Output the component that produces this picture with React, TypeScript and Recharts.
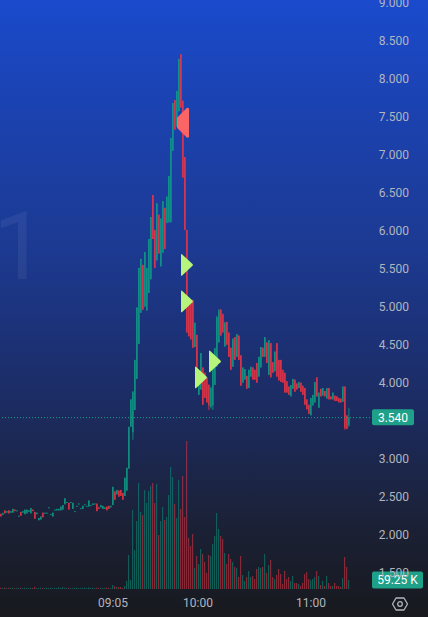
import React from 'react';
import { ComposedChart, Bar, XAxis, YAxis, ReferenceLine, Scatter, Cell } from 'recharts';

// ---- data ----
const openP = [
  2.27, 2.26, 2.32, 2.29, 2.32, 2.29, 2.29, 2.33, 2.31, 2.24,
  2.30, 2.29, 2.27, 2.28, 2.30, 2.28, 2.33, 2.30, 2.27, 2.19,
  2.20, 2.29, 2.28, 2.28, 2.35, 2.26, 2.24, 2.32, 2.32, 2.32,
  2.32, 2.33, 2.40, 2.42, 2.42, 2.42, 2.34, 2.30, 2.37, 2.40,
  2.34, 2.34, 2.39, 2.37, 2.37, 2.38, 2.39, 2.40, 2.41, 2.36,
  2.36, 2.34, 2.34, 2.37, 2.38, 2.36, 2.39, 2.57, 2.53, 2.58,
  2.59, 2.55, 2.51, 2.58, 2.87, 3.42, 3.35, 3.64, 4.05, 4.51,
  4.92, 5.55, 5.00, 4.95, 5.18, 5.36, 6.47, 6.01, 5.61, 6.21,
  5.53, 5.71, 6.30, 6.10, 6.11, 6.11, 7.05, 7.72, 7.37, 7.57,
  8.32, 7.71, 6.97, 6.01, 5.09, 5.05, 5.09, 4.47, 4.63, 3.84,
  3.91, 4.20, 4.13, 4.07, 3.97, 3.68, 3.70, 3.97, 4.21, 4.53,
  4.96, 4.90, 4.48, 4.80, 4.66, 4.46, 4.21, 4.60, 4.34, 4.62,
  4.36, 4.00, 4.04, 4.09, 3.93, 4.08, 4.20, 4.17, 4.26, 4.08,
  4.20, 4.46, 4.34, 4.53, 4.10, 4.52, 4.27, 4.15, 4.52, 4.30,
  4.30, 4.17, 4.13, 4.02, 3.95, 3.82, 3.92, 4.04, 3.99, 3.93,
  4.00, 3.96, 3.93, 3.78, 3.71, 3.57, 3.70, 3.74, 4.07, 3.67,
  3.92, 3.83, 3.89, 3.79, 3.93, 3.82, 3.78, 3.83, 3.82, 3.80,
  3.79, 3.75, 3.95, 3.57, 3.44,
];
const highP = [
  2.28, 2.29, 2.32, 2.31, 2.32, 2.31, 2.34, 2.33, 2.32, 2.25,
  2.30, 2.31, 2.33, 2.33, 2.32, 2.35, 2.33, 2.30, 2.29, 2.22,
  2.24, 2.29, 2.29, 2.29, 2.36, 2.27, 2.29, 2.33, 2.34, 2.34,
  2.37, 2.39, 2.48, 2.43, 2.42, 2.43, 2.42, 2.31, 2.38, 2.41,
  2.35, 2.38, 2.40, 2.38, 2.45, 2.39, 2.41, 2.41, 2.41, 2.36,
  2.39, 2.38, 2.36, 2.37, 2.38, 2.38, 2.63, 2.57, 2.59, 2.58,
  2.59, 2.55, 2.75, 2.88, 3.42, 3.78, 3.89, 4.30, 4.99, 5.51,
  5.63, 5.55, 5.72, 5.51, 5.89, 6.18, 6.47, 6.01, 6.36, 6.21,
  6.16, 6.39, 6.30, 6.45, 6.72, 7.22, 7.68, 7.72, 7.84, 8.26,
  8.32, 7.71, 6.97, 6.01, 5.09, 5.05, 5.09, 4.79, 4.63, 4.13,
  4.39, 4.20, 4.13, 4.07, 3.98, 3.95, 4.30, 4.46, 4.88, 4.97,
  4.97, 4.91, 4.80, 4.80, 4.66, 4.46, 4.58, 4.60, 4.64, 4.62,
  4.36, 4.20, 4.18, 4.09, 4.17, 4.21, 4.20, 4.17, 4.26, 4.34,
  4.47, 4.46, 4.60, 4.53, 4.56, 4.52, 4.27, 4.41, 4.52, 4.30,
  4.30, 4.17, 4.13, 4.02, 3.95, 3.97, 4.05, 4.04, 3.99, 4.01,
  4.00, 3.96, 3.93, 3.78, 3.71, 3.80, 3.84, 4.01, 4.07, 3.87,
  3.92, 3.93, 3.89, 3.93, 3.93, 3.82, 3.87, 3.83, 3.82, 3.80,
  3.79, 3.95, 3.95, 3.57, 3.67,
];
const lowP = [
  2.24, 2.26, 2.28, 2.29, 2.28, 2.29, 2.29, 2.31, 2.31, 2.24,
  2.25, 2.29, 2.27, 2.28, 2.30, 2.28, 2.31, 2.21, 2.27, 2.19,
  2.20, 2.23, 2.28, 2.28, 2.35, 2.26, 2.24, 2.32, 2.32, 2.32,
  2.32, 2.33, 2.40, 2.42, 2.33, 2.42, 2.34, 2.30, 2.37, 2.40,
  2.34, 2.34, 2.39, 2.37, 2.37, 2.38, 2.39, 2.40, 2.31, 2.34,
  2.36, 2.34, 2.34, 2.32, 2.34, 2.36, 2.39, 2.46, 2.53, 2.50,
  2.51, 2.46, 2.51, 2.58, 2.87, 3.42, 3.25, 3.64, 4.05, 4.51,
  4.92, 4.96, 5.00, 4.95, 5.18, 5.36, 5.89, 5.51, 5.61, 5.70,
  5.53, 5.71, 5.76, 6.10, 6.11, 6.11, 7.05, 7.33, 7.37, 7.57,
  7.62, 6.70, 6.01, 4.66, 4.61, 4.57, 4.46, 4.47, 4.13, 3.84,
  3.91, 3.71, 3.80, 3.74, 3.64, 3.66, 3.64, 3.97, 4.21, 4.53,
  4.62, 4.66, 4.47, 4.50, 4.34, 4.17, 4.21, 4.30, 4.34, 4.30,
  3.96, 4.00, 4.04, 3.92, 3.93, 4.08, 4.04, 4.04, 4.00, 4.08,
  4.20, 4.34, 4.34, 4.26, 4.10, 4.07, 4.13, 4.15, 4.08, 4.03,
  4.01, 4.00, 3.87, 3.87, 3.84, 3.82, 3.92, 3.88, 3.91, 3.93,
  3.88, 3.84, 3.71, 3.65, 3.59, 3.57, 3.70, 3.74, 3.82, 3.67,
  3.82, 3.83, 3.82, 3.79, 3.78, 3.78, 3.78, 3.76, 3.76, 3.74,
  3.74, 3.75, 3.38, 3.39, 3.42,
];
const closeP = [
  2.24, 2.28, 2.28, 2.31, 2.28, 2.31, 2.34, 2.31, 2.32, 2.25,
  2.25, 2.31, 2.33, 2.33, 2.32, 2.35, 2.31, 2.21, 2.29, 2.22,
  2.24, 2.23, 2.29, 2.29, 2.36, 2.27, 2.29, 2.33, 2.34, 2.34,
  2.37, 2.39, 2.48, 2.43, 2.33, 2.43, 2.42, 2.31, 2.38, 2.41,
  2.35, 2.38, 2.40, 2.38, 2.45, 2.39, 2.41, 2.41, 2.31, 2.34,
  2.39, 2.38, 2.36, 2.32, 2.34, 2.38, 2.63, 2.46, 2.59, 2.50,
  2.51, 2.46, 2.75, 2.88, 3.42, 3.78, 3.88, 4.30, 4.99, 5.51,
  5.63, 4.96, 5.72, 5.51, 5.89, 6.18, 5.89, 5.51, 6.36, 5.70,
  6.16, 6.39, 5.76, 6.45, 6.72, 7.22, 7.68, 7.33, 7.84, 8.26,
  7.62, 6.70, 6.01, 4.66, 4.61, 4.57, 4.46, 4.79, 4.13, 4.13,
  4.39, 3.71, 3.80, 3.74, 3.70, 3.93, 4.28, 4.45, 4.86, 4.95,
  4.62, 4.66, 4.79, 4.50, 4.34, 4.17, 4.58, 4.30, 4.64, 4.30,
  3.96, 4.20, 4.18, 3.92, 4.17, 4.21, 4.04, 4.04, 4.00, 4.34,
  4.47, 4.34, 4.60, 4.26, 4.56, 4.07, 4.13, 4.41, 4.08, 4.03,
  4.01, 4.00, 3.87, 3.87, 3.84, 3.97, 4.05, 3.88, 3.91, 4.01,
  3.88, 3.84, 3.71, 3.65, 3.59, 3.80, 3.84, 4.01, 3.82, 3.87,
  3.82, 3.93, 3.82, 3.93, 3.78, 3.78, 3.87, 3.76, 3.76, 3.74,
  3.74, 3.95, 3.40, 3.39, 3.54,
];
const volumeK = [
  8, 6, 10, 6, 8, 7, 9, 6, 7, 6,
  8, 7, 9, 6, 7, 8, 6, 14, 7, 6,
  8, 6, 7, 8, 6, 9, 7, 8, 6, 12,
  7, 13, 8, 6, 9, 7, 6, 8, 9, 7,
  6, 8, 10, 7, 12, 6, 8, 7, 9, 6,
  8, 7, 6, 10, 9, 7, 26, 20, 13, 13,
  13, 7, 20, 53, 224, 59, 520, 257, 447, 697,
  507, 487, 651, 566, 645, 678, 697, 566, 691, 355,
  447, 540, 454, 474, 618, 803, 737, 559, 467, 717,
  526, 743, 474, 974, 336, 283, 362, 138, 217, 165,
  263, 230, 178, 105, 224, 217, 296, 349, 500, 395,
  349, 329, 237, 165, 230, 197, 178, 145, 138, 79,
  217, 92, 53, 79, 118, 79, 86, 66, 132, 145,
  138, 145, 230, 105, 158, 191, 79, 66, 92, 132,
  99, 33, 118, 66, 79, 53, 86, 39, 39, 33,
  20, 39, 99, 112, 66, 59, 66, 79, 118, 86,
  26, 53, 20, 86, 39, 20, 20, 39, 20, 20,
  13, 72, 211, 145, 59.25,
];
const timeTickIdx = [56, 98.5, 155];
const timeTickLabels = ['09:05', '10:00', '11:00'];
// 3.500 is hidden behind the last-price tag in the reference
const priceTicks = [1.5, 2, 2.5, 3, 4, 4.5, 5, 5.5, 6, 6.5, 7, 7.5, 8, 8.5, 9];
const buyMarkers = [
  { i: 90, price: 5.55 },
  { i: 90, price: 5.07 },
  { i: 97, price: 4.07 },
  { i: 104, price: 4.28 },
];
const sellMarkers = [{ i: 94, price: 7.42 }];
const watermarkText = '1';

// ---- styles ----
const UP = '#109e87';
const DOWN = '#f23645';
const VOL_UP = 'rgba(8,153,129,0.5)';
const VOL_DOWN = 'rgba(242,54,69,0.5)';
const TEXT = '#b2b5be';
const TAG = '#1fa088';
const FONT = 'Roboto, "Noto Sans", sans-serif';

const data = openP.map((o, i) => ({
  i,
  open: o,
  high: highP[i],
  low: lowP[i],
  close: closeP[i],
  range: [lowP[i], highP[i]],
  volume: volumeK[i],
}));
const last = data[data.length - 1];

const Candle = (props: any) => {
  const { x, y, width, height, payload } = props;
  if (x == null || y == null) return null;
  const top = Math.min(y, y + height);
  const h = Math.abs(height);
  const cx = x + width / 2;
  const span = payload.high - payload.low;
  const py = (v: number) => (span === 0 ? top : top + ((payload.high - v) / span) * h);
  const up = payload.close >= payload.open;
  const color = up ? UP : DOWN;
  const bTop = py(Math.max(payload.open, payload.close));
  const bBot = py(Math.min(payload.open, payload.close));
  return (
    <g>
      <line x1={cx} x2={cx} y1={top} y2={top + h} stroke={color} strokeWidth={0.8} />
      <rect x={cx - 0.6} y={bTop} width={1.2} height={Math.max(bBot - bTop, 1)} fill={color} />
    </g>
  );
};

const BuyArrow = (props: any) => {
  const { cx, cy } = props;
  if (cx == null || cy == null) return null;
  return (
    <path
      d={`M${cx},${cy - 10} Q${cx},${cy - 11.5} ${cx + 1.2},${cy - 10.5} L${cx + 11.5},${cy - 0.8} Q${cx + 12.3},${cy} ${cx + 11.5},${cy + 0.8} L${cx + 1.2},${cy + 10.5} Q${cx},${cy + 11.5} ${cx},${cy + 10} Z`}
      fill="#b6f47c"
    />
  );
};

const SellArrow = (props: any) => {
  const { cx, cy } = props;
  if (cx == null || cy == null) return null;
  return (
    <path
      d={`M${cx},${cy - 14.5} L${cx},${cy + 14.5} L${cx - 2},${cy + 15} L${cx - 12},${cy + 5} L${cx - 12},${cy - 5} L${cx - 2},${cy - 15} Z`}
      fill="#fb6566"
    />
  );
};

const PriceTick = (props: any) => {
  const { y, payload } = props;
  return (
    <text x={409} y={y} dy="0.35em" textAnchor="end" fill={TEXT} fontSize={12} fontFamily={FONT}>
      {Number(payload.value).toFixed(3)}
    </text>
  );
};

const TimeTick = (props: any) => {
  const { x, payload } = props;
  const k = timeTickIdx.indexOf(payload.value);
  return (
    <text x={x} y={603} dy="0.35em" textAnchor="middle" fill={TEXT} fontSize={12} fontFamily={FONT}>
      {k >= 0 ? timeTickLabels[k] : ''}
    </text>
  );
};

const PriceTag = (props: any) => {
  const vb = props.viewBox || {};
  const right = vb.x + vb.width;
  const y = vb.y;
  return (
    <g>
      <line x1={right} x2={right + 12} y1={y} y2={y} stroke={TAG} strokeDasharray="1 2" />
      <rect x={right + 12} y={y - 8.5} width={42} height={16} rx={2} fill={TAG} />
      <text x={right + 33} y={y} dy="0.35em" textAnchor="middle" fill="#ffffff" fontSize={12} fontFamily={FONT}>
        {last.close.toFixed(3)}
      </text>
    </g>
  );
};

const VolTag = (props: any) => {
  const vb = props.viewBox || {};
  const right = vb.x + vb.width;
  const y = vb.y;
  return (
    <g>
      <rect x={right + 12} y={y - 8.5} width={51} height={17} rx={2} fill={TAG} />
      <text x={right + 37.5} y={y} dy="0.35em" textAnchor="middle" fill="#ffffff" fontSize={12} fontFamily={FONT}>
        {`${last.volume.toFixed(2)} K`}
      </text>
    </g>
  );
};

const PRICE_MIN = 9 - (589 - 2.7) / 76;
const PRICE_MAX = 9 + 2.7 / 76;
const VOL_MAX = 589 * 6.58;

export default function App() {
  return (
    <div
      style={{
        position: 'relative',
        width: 428,
        height: 617,
        overflow: 'hidden',
        background:
          'linear-gradient(180deg, #1a4bcc 0%, #1b43b4 15%, #1c3a92 40%, #1c2c63 65%, #1b2136 85%, #18191e 100%)',
      }}
    >
      <style>{'body{margin:0;}'}</style>
      <svg width={60} height={100} style={{ position: 'absolute', left: 0, top: 190 }}>
        <text x={-7} y={89} fontSize={94} fontFamily={FONT} fill="rgba(255,255,255,0.06)">
          {watermarkText}
        </text>
      </svg>
      <ComposedChart
        width={428}
        height={617}
        data={data}
        margin={{ top: 0, right: 0, bottom: 0, left: 0 }}
        style={{ position: 'absolute', left: 0, top: 0 }}
      >
        <XAxis
          xAxisId="main"
          dataKey="i"
          type="number"
          domain={[-0.5, 179.5]}
          allowDataOverflow
          ticks={timeTickIdx}
          interval={0}
          height={28}
          axisLine={false}
          tickLine={false}
          tick={<TimeTick />}
        />
        <XAxis xAxisId="vol" dataKey="i" type="number" domain={[-0.5, 179.5]} allowDataOverflow hide />
        <YAxis
          yAxisId="price"
          orientation="right"
          type="number"
          domain={[PRICE_MIN, PRICE_MAX]}
          allowDataOverflow
          ticks={priceTicks}
          interval={0}
          width={68}
          axisLine={false}
          tickLine={false}
          tick={<PriceTick />}
        />
        <YAxis yAxisId="vol" type="number" domain={[0, VOL_MAX]} allowDataOverflow hide />
        <Bar xAxisId="vol" yAxisId="vol" dataKey="volume" barSize={1.2} isAnimationActive={false}>
          {data.map((d, k) => (
            <Cell key={k} fill={d.close >= d.open ? VOL_UP : VOL_DOWN} />
          ))}
        </Bar>
        <Bar
          xAxisId="main"
          yAxisId="price"
          dataKey="range"
          barSize={2}
          shape={<Candle />}
          isAnimationActive={false}
        />
        <ReferenceLine
          xAxisId="main"
          yAxisId="price"
          y={last.close}
          stroke={TAG}
          strokeDasharray="1 2"
          label={<PriceTag />}
        />
        <ReferenceLine
          xAxisId="vol"
          yAxisId="vol"
          y={last.volume}
          stroke="none"
          strokeOpacity={0}
          label={<VolTag />}
        />
        <Scatter
          xAxisId="main"
          yAxisId="price"
          data={buyMarkers}
          dataKey="price"
          shape={<BuyArrow />}
          isAnimationActive={false}
        />
        <Scatter
          xAxisId="main"
          yAxisId="price"
          data={sellMarkers}
          dataKey="price"
          shape={<SellArrow />}
          isAnimationActive={false}
        />
      </ComposedChart>
      <svg width={18} height={16} style={{ position: 'absolute', left: 391, top: 596 }}>
        <path
          d="M1.5,8 L5,2 L13,2 L16.5,8 L13,14 L5,14 Z"
          fill="none"
          stroke={TEXT}
          strokeWidth={1.3}
          strokeLinejoin="round"
        />
        <circle cx={9} cy={8} r={2.3} fill="none" stroke={TEXT} strokeWidth={1.3} />
      </svg>
    </div>
  );
}
